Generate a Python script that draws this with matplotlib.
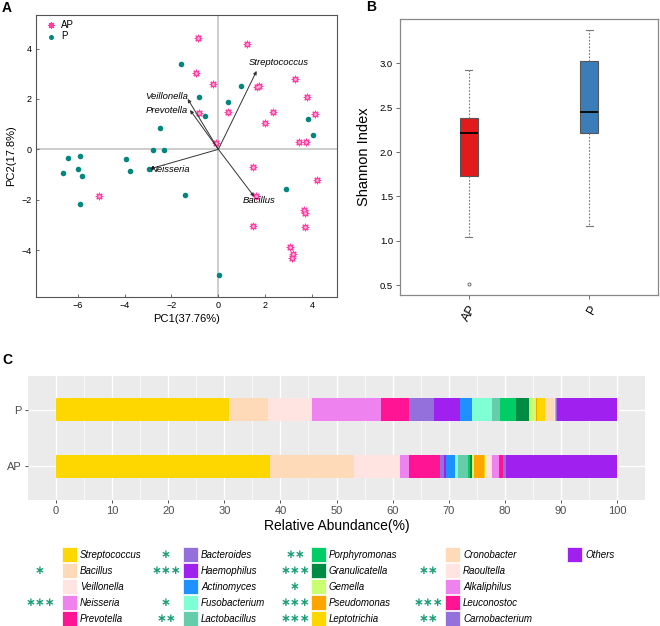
import matplotlib
matplotlib.use('Agg')
import matplotlib.pyplot as plt
import numpy as np

plt.rcParams['font.family'] = ['Liberation Sans', 'DejaVu Sans']

# ---------------- Panel A data ----------------
ap_pc1 = [-0.88, 1.22, -0.97, -0.24, 3.25, 1.63, 1.75, 3.79, -0.82, 0.40, 2.32, 4.13, 1.99,
          -0.10, 3.45, 3.72, 1.48, 4.20, -5.11, 1.62, 3.65, 3.68, 1.48, 3.69, 3.05, 3.17, 3.14]
ap_pc2 = [4.43, 4.17, 3.04, 2.59, 2.80, 2.49, 2.53, 2.06, 1.46, 1.49, 1.47, 1.39, 1.04,
          0.24, 0.28, 0.29, -0.69, -1.20, -1.85, -1.85, -2.41, -2.54, -3.04, -3.10, -3.86, -4.15, -4.33]
p_pc1 = [-1.59, 0.97, -0.84, 0.41, -0.57, 3.81, -2.49, 4.03, -2.78, -2.33, -6.42, -5.91,
         -3.95, -6.63, -5.98, -5.82, -3.79, -2.94, 2.87, -1.41, -5.89, 0.04]
p_pc2 = [3.40, 2.51, 2.06, 1.87, 1.32, 1.20, 0.85, 0.57, -0.04, -0.01, -0.36, -0.25,
         -0.37, -0.94, -0.77, -1.04, -0.85, -0.79, -1.56, -1.81, -2.18, -4.97]
loading_names = ['Streptococcus', 'Veillonella', 'Prevotella', 'Neisseria', 'Bacillus']
loading_pc1 = [1.63, -1.31, -1.21, -2.93, 1.53]
loading_pc2 = [3.11, 2.00, 1.56, -0.78, -1.88]

# ---------------- Panel B data ----------------
box_groups = ['AP', 'P']
box_whislo = [1.04, 1.17]
box_q1 = [1.73, 2.21]
box_med = [2.22, 2.45]
box_q3 = [2.38, 3.03]
box_whishi = [2.92, 3.38]
box_outliers = [[0.51], []]

# ---------------- Panel C data ----------------
genera = ['Streptococcus', 'Bacillus', 'Veillonella', 'Neisseria', 'Prevotella',
          'Bacteroides', 'Haemophilus', 'Actinomyces', 'Fusobacterium', 'Lactobacillus',
          'Porphyromonas', 'Granulicatella', 'Gemella', 'Pseudomonas', 'Leptotrichia',
          'Cronobacter', 'Raoultella', 'Alkaliphilus', 'Leuconostoc', 'Carnobacterium', 'Others']
abund_P = [30.9, 6.8, 7.9, 12.4, 4.9, 4.4, 4.8, 2.1, 3.5, 1.5, 2.8, 2.3, 1.3, 0.2, 1.4,
           1.6, 0.1, 0.2, 0.1, 0.05, 10.75]
abund_AP = [38.2, 14.9, 8.3, 1.6, 5.5, 0.7, 0.3, 1.7, 0.4, 1.9, 0.3, 0.3, 0.5, 1.7, 0.1,
            0.1, 1.3, 1.2, 0.6, 0.6, 19.8]
signif = ['', '*', '', '***', '', '*', '***', '', '*', '**', '**', '***', '*', '***', '***',
          '', '**', '', '***', '**', '']
genus_colors = ['#FFD700', '#FFDAB9', '#FFE4E1', '#EE82EE', '#FF1493',
                '#9370DB', '#A020F0', '#1E90FF', '#7FFFD4', '#66CDAA',
                '#00CD66', '#008B45', '#CAFF70', '#FFA500', '#FFD700',
                '#FFDAB9', '#FFE4E1', '#EE82EE', '#FF1493', '#9370DB', '#A020F0']
bar_groups = ['AP', 'P']

W, H = 660, 626
fig = plt.figure(figsize=(6.6, 6.26), dpi=100)


def ax_px(l, t, r, b, **kw):
    return fig.add_axes([l / W, 1 - b / H, (r - l) / W, (b - t) / H], **kw)


pink = '#FF3FA4'
teal = '#00877D'

# ================= Panel A =================
axA = ax_px(36, 15, 337, 297)
axA.axhline(0, color='#c8c8c8', lw=1.3, zorder=0)
axA.axvline(0, color='#c8c8c8', lw=1.3, zorder=0)
axA.scatter(ap_pc1, ap_pc2, marker=(8, 2, 0), s=22, color=pink, linewidths=0.9, label='AP', zorder=3)
axA.scatter(ap_pc1, ap_pc2, marker='o', s=4, color='#FFB0D8', linewidths=0, zorder=3.5)
axA.scatter(p_pc1, p_pc2, marker='o', s=16, color=teal, linewidths=0, label='P', zorder=3)
for name, x, y in zip(loading_names, loading_pc1, loading_pc2):
    axA.annotate('', xy=(x, y), xytext=(0, 0),
                 arrowprops=dict(arrowstyle='-|>', color='#333333', lw=0.7,
                                 shrinkA=0, shrinkB=0, mutation_scale=5), zorder=4)
lbl_off = {'Streptococcus': (-0.35, 0.33, 'left', 'center'),
           'Veillonella': (0.0, 0.09, 'right', 'center'),
           'Prevotella': (-0.1, -0.03, 'right', 'center'),
           'Neisseria': (0.06, -0.04, 'left', 'center'),
           'Bacillus': (0.19, -0.17, 'center', 'center')}
for name, x, y in zip(loading_names, loading_pc1, loading_pc2):
    dx, dy, ha, va = lbl_off[name]
    axA.text(x + dx, y + dy, name, style='italic', fontsize=6.8, ha=ha, va=va, zorder=5)
axA.set_xlim(-7.78, 5.06)
axA.set_ylim(-5.86, 5.33)
axA.set_xticks([-6, -4, -2, 0, 2, 4])
axA.set_yticks([-4, -2, 0, 2, 4])
axA.tick_params(direction='in', length=2, width=0.6, labelsize=6.5, color='#555555', pad=3)
for s in axA.spines.values():
    s.set_color('#555555')
    s.set_linewidth(0.8)
axA.set_xlabel('PC1(37.76%)', fontsize=8, labelpad=3)
axA.set_ylabel('PC2(17.8%)', fontsize=8, labelpad=4)
leg = axA.legend(loc='upper left', frameon=False, fontsize=7, handletextpad=0.1,
                 borderaxespad=0.3, labelspacing=0.15, markerscale=0.9, borderpad=0.2)
fig.text(2 / W, 1 - 8 / H, 'A', fontsize=10, fontweight='bold', va='center')

# ================= Panel B =================
axB = ax_px(400, 19, 658, 295)
stats = []
for i, g in enumerate(box_groups):
    stats.append(dict(label=g, whislo=box_whislo[i], q1=box_q1[i], med=box_med[i],
                      q3=box_q3[i], whishi=box_whishi[i], fliers=box_outliers[i]))
bp = axB.bxp(stats, positions=[1, 2], widths=0.15, patch_artist=True,
             boxprops=dict(edgecolor='#555555', linewidth=0.8),
             medianprops=dict(color='black', linewidth=1.3),
             whiskerprops=dict(color='#777777', linestyle=(0, (1.5, 1.5)), linewidth=0.8),
             capprops=dict(color='#777777', linewidth=0.8),
             flierprops=dict(marker='o', markersize=2.2, markerfacecolor='white',
                             markeredgecolor='#555555', markeredgewidth=0.6))
for patch, c in zip(bp['boxes'], ['#E31A1C', '#3A7DB9']):
    patch.set_facecolor(c)
for cap in bp['caps']:
    xd = cap.get_xdata()
    mid = np.mean(xd)
    cap.set_xdata([mid - 0.03, mid + 0.03])
axB.set_xlim(0.43, 2.57)
axB.set_ylim(0.39, 3.5)
axB.set_yticks([0.5, 1.0, 1.5, 2.0, 2.5, 3.0])
axB.set_yticklabels(['0.5', '1.0', '1.5', '2.0', '2.5', '3.0'])
axB.set_xticks([1, 2])
axB.set_xticklabels(box_groups, rotation=60, fontsize=9, ha='right', rotation_mode='anchor')
axB.tick_params(axis='y', length=3, width=0.6, labelsize=6.8, color='#555555', pad=2)
axB.tick_params(axis='x', length=3, width=0.6, color='#555555', pad=3)
for s in axB.spines.values():
    s.set_color('#888888')
    s.set_linewidth(0.9)
axB.set_ylabel('Shannon Index', fontsize=10.5, labelpad=6)
fig.text(366 / W, 1 - 7 / H, 'B', fontsize=10, fontweight='bold', va='center')

# ================= Panel C =================
axC = ax_px(28, 376, 645, 500)
axC.set_facecolor('#EBEBEB')
ypos = {'AP': 1, 'P': 2}
for grp, vals in (('P', abund_P), ('AP', abund_AP)):
    left = 0.0
    for v, c in zip(vals, genus_colors):
        axC.barh(ypos[grp], v, left=left, height=0.41, color=c, linewidth=0, zorder=3)
        left += v
axC.set_xlim(-5, 105)
axC.set_ylim(0.4, 2.6)
axC.set_xticks(np.arange(0, 101, 10))
axC.set_xticks(np.arange(5, 100, 10), minor=True)
axC.set_yticks([1, 2])
axC.set_yticklabels(bar_groups)
axC.grid(which='major', color='white', linewidth=1.0, zorder=0)
axC.grid(which='minor', axis='x', color='white', linewidth=0.5, zorder=0)
axC.set_axisbelow(True)
axC.tick_params(which='major', length=2.5, width=0.6, color='#333333', labelsize=8,
                labelcolor='#4D4D4D', pad=2)
axC.tick_params(which='minor', length=0)
for s in axC.spines.values():
    s.set_visible(False)
axC.set_xlabel('Relative Abundance(%)', fontsize=10, labelpad=2)
fig.text(2 / W, 1 - 360 / H, 'C', fontsize=10, fontweight='bold', va='center')

# ---- legend ----
axL = ax_px(0, 0, W, H)
axL.set_xlim(0, W)
axL.set_ylim(H, 0)
axL.axis('off')
col_box_x = [62, 183, 311, 445, 567]
col_star_x = [40, 166, 295, 428, 550]
row_y = [554.5, 570.5, 586.5, 602.5, 618.5]
for i, (g, c, sg) in enumerate(zip(genera, genus_colors, signif)):
    col, row = divmod(i, 5)
    bx, y = col_box_x[col], row_y[row]
    axL.add_patch(plt.Rectangle((bx, y - 7.5), 15, 15, facecolor=c, edgecolor='white', lw=0.5))
    axL.text(bx + 18, y, g, style='italic', fontsize=7, va='center', ha='left')
    if sg:
        axL.text(col_star_x[col], y + 6.3, sg.replace('*', '\u2217'), fontsize=8.5,
                 color='#1B9E77', ha='center', va='bottom', family='DejaVu Sans',
                 fontweight='bold')

fig.savefig('out.png', dpi=100)
